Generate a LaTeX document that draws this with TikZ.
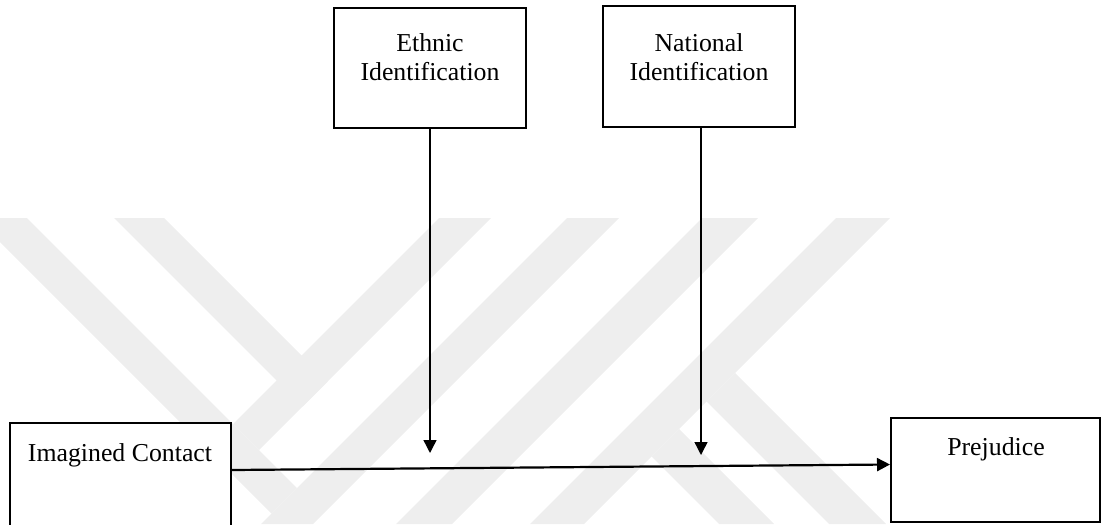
\documentclass[tikz,border=0pt]{standalone}
\usepackage{fontspec}
\setmainfont{Liberation Serif}
\usetikzlibrary{arrows.meta}
\definecolor{wmgray}{HTML}{EEEEEE}

\begin{document}
\begin{tikzpicture}[x=0.5pt,y=-0.5pt,
  box/.style={draw, line width=1pt, fill=white, inner sep=0pt},
  lbl/.style={font=\fontsize{12.9}{14.5}\selectfont, align=center, anchor=base, inner sep=0pt},
  link/.style={line width=0.7pt, -{Triangle[length=6.5pt,width=6.5pt]}}]
\useasboundingbox (0,0) rectangle (1101,524);
% faint logo in the background
\begin{scope}
\clip (0,0) rectangle (1101,524);
\fill[wmgray] (-24,218) -- (27,218) -- (297,488) -- (271.5,513.5) -- cycle;
\fill[wmgray] (114,218) -- (164,218) -- (327.5,381.5) -- (302.5,406.5) -- cycle;
\fill[wmgray] (439,218) -- (491,218) -- (259,450) -- (233,424) -- cycle;
\fill[wmgray] (567,218) -- (619,218) -- (313,524) -- (261,524) -- cycle;
\fill[wmgray] (702,218) -- (758,218) -- (452,524) -- (396,524) -- cycle;
\fill[wmgray] (836,218) -- (890,218) -- (584,524) -- (530,524) -- cycle;
\fill[wmgray] (735,373) -- (886,524) -- (829,524) -- (706.5,401.5) -- cycle;
\fill[wmgray] (679,429) -- (774,524) -- (719,524) -- (651.5,456.5) -- cycle;
\end{scope}

\node[box, minimum width=96pt, minimum height=60pt] (ethnic) at (430,68) {};
\node[box, minimum width=96pt, minimum height=60.5pt] (national) at (699,66.5) {};
\node[box, minimum width=110.5pt, minimum height=58.5pt] (contact) at (120.5,481.5) {};
\node[box, minimum width=104.5pt, minimum height=52pt] (prejudice) at (995.5,470) {};

\node[lbl] (ethnictxt) at (430,81) {Ethnic\\Identification};
\node[lbl] (nationaltxt) at (699,81) {National\\Identification};
\node[lbl] (contacttxt) at (120,461) {Imagined Contact};
\node[lbl] (prejudicetxt) at (996,455) {Prejudice};

\coordinate (ethnicend) at (430,453);
\coordinate (nationalend) at (701,455);
\draw[link] (ethnic.south) -- (ethnicend);
\draw[link] (national.south -| nationalend) -- (nationalend);
\draw[link, line width=1.1pt] (contact.east |- 0,470) -- (prejudice.west |- 0,464.5);
\end{tikzpicture}
\end{document}
